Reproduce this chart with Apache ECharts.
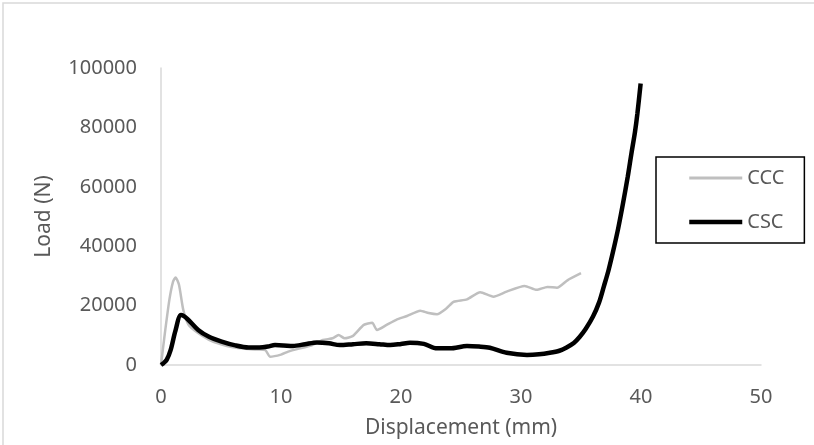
<!DOCTYPE html>
<html>
<head>
<meta charset="utf-8">
<script src="https://cdn.jsdelivr.net/npm/echarts@6/dist/echarts.min.js"></script>
<style>
  html, body { margin: 0; padding: 0; background: #fff; }
  #chart { width: 814px; height: 445px; }
</style>
</head>
<body>
<div id="chart"></div>
<script>
// displacement (mm) / load (N)
const cccX = [0, 0.3, 0.7, 1.0, 1.22, 1.5, 1.86, 2.3, 3.0, 4.0, 5.0, 6.0, 7.0, 8.0, 8.7, 9.08, 10.0, 10.6, 11.5, 12.5, 13.5, 14.3, 14.8, 15.3, 16.0, 16.9, 17.6, 18.0, 18.8, 19.6, 20.5, 21.6, 22.3, 23.0, 23.8, 24.4, 25.5, 26.6, 27.7, 28.8, 30.3, 31.3, 32.2, 33.0, 33.9, 35.0];
const cccY = [0, 10000, 22000, 28000, 29500, 27000, 18500, 13500, 11000, 8500, 7000, 6000, 5500, 5200, 5000, 2800, 3500, 4500, 5500, 6500, 8400, 9000, 10100, 9000, 9800, 13500, 14200, 11800, 13500, 15200, 16500, 18300, 17500, 17100, 19100, 21300, 22100, 24500, 23000, 24700, 26600, 25300, 26300, 26000, 28600, 30900];

const cscX = [0, 0.2, 0.47, 0.8, 1.2, 1.67, 2.2, 3.1, 4.0, 5.06, 6.2, 7.3, 8.2, 8.9, 9.5, 10.2, 11.0, 12.0, 13.0, 14.0, 14.9, 16.0, 17.1, 18.2, 19.1, 20.0, 20.75, 21.9, 23.0, 24.1, 25.5, 26.5, 27.4, 28.8, 30.5, 31.5, 32.4, 33.2, 33.8, 34.4, 34.9, 35.4, 36.0, 36.5, 36.9, 37.3, 37.7, 38.1, 38.5, 38.9, 39.2, 39.5, 39.7, 39.97];
const cscY = [0, 600, 1700, 5000, 11500, 16800, 15500, 11800, 9500, 7900, 6600, 5900, 5900, 6200, 6700, 6600, 6400, 7000, 7600, 7300, 6700, 7000, 7300, 7000, 6700, 7100, 7500, 7100, 5600, 5600, 6400, 6200, 5800, 4100, 3400, 3600, 4100, 4800, 5900, 7400, 9500, 12200, 16300, 21000, 26400, 32000, 38700, 46000, 54400, 63500, 71200, 78500, 84700, 94800];

const seriesNames = ['CCC', 'CSC'];

const pairs = (xs, ys) => xs.map((x, i) => [x, ys[i]]);

const textColor = '#595959';
const font = 'Noto Sans';
const greyLine = { color: '#BFBFBF', width: 2.5 };
const blackLine = { color: '#000', width: 4.5 };

const chart = echarts.init(document.getElementById('chart'));
chart.setOption({
    animation: false,
    backgroundColor: '#fff',
    textStyle: { fontFamily: font },
    graphic: [{
        type: 'rect',
        shape: { x: 3, y: 3, width: 830, height: 460 },
        style: { fill: 'none', stroke: '#D9D9D9', lineWidth: 1.5 },
        silent: true
    }],
    grid: { left: 161, right: 53, top: 68, bottom: 80 },
    legend: {
        orient: 'vertical',
        left: 656,
        top: 157,
        padding: [11, 20, 11, 31],
        itemGap: 24,
        itemWidth: 53,
        itemHeight: 20,
        itemStyle: { opacity: 0 },
        borderColor: '#000',
        borderWidth: 1.5,
        textStyle: { color: textColor, fontSize: 20, fontFamily: font },
        data: [
            { name: seriesNames[0], lineStyle: { color: greyLine.color, width: 3 } },
            { name: seriesNames[1], lineStyle: { color: blackLine.color, width: 4.5 } }
        ]
    },
    xAxis: {
        type: 'value',
        min: 0, max: 50, interval: 10,
        name: 'Displacement (mm)',
        nameLocation: 'middle',
        nameGap: 53,
        nameTextStyle: { color: textColor, fontSize: 21, fontFamily: font },
        axisLine: { show: true, lineStyle: { color: '#D9D9D9', width: 1.5 } },
        axisTick: { show: false },
        splitLine: { show: false },
        axisLabel: { color: textColor, fontSize: 20, margin: 22, fontFamily: font }
    },
    yAxis: {
        type: 'value',
        min: 0, max: 100000, interval: 20000,
        name: 'Load (N)',
        nameLocation: 'middle',
        nameGap: 106,
        nameTextStyle: { color: textColor, fontSize: 21, fontFamily: font },
        axisLine: { show: true, lineStyle: { color: '#D9D9D9', width: 1.5 } },
        axisTick: { show: false },
        splitLine: { show: false },
        axisLabel: { color: textColor, fontSize: 20, margin: 24, fontFamily: font, formatter: v => String(v) }
    },
    series: [
        {
            name: seriesNames[0],
            type: 'line',
            data: pairs(cccX, cccY),
            symbol: 'none',
            smooth: 0.2,
            lineStyle: greyLine,
            itemStyle: { color: greyLine.color }
        },
        {
            name: seriesNames[1],
            type: 'line',
            data: pairs(cscX, cscY),
            symbol: 'none',
            smooth: 0.3,
            lineStyle: blackLine,
            itemStyle: { color: blackLine.color }
        }
    ]
});
</script>
</body>
</html>
